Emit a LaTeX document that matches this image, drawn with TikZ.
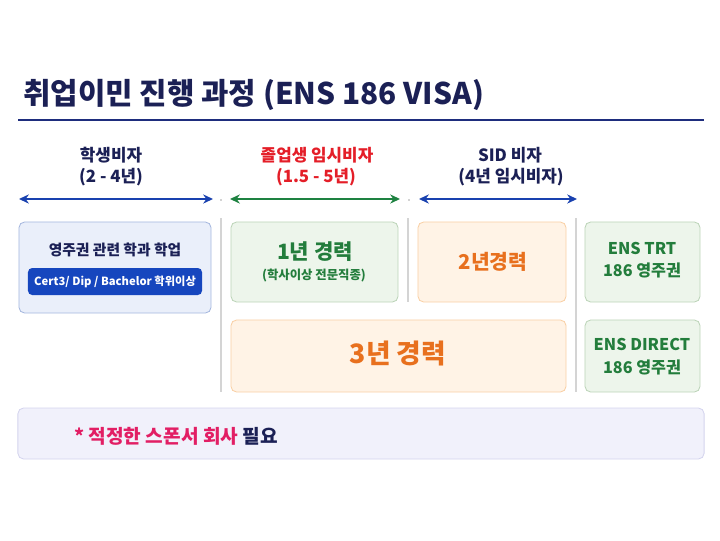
\documentclass[tikz,border=0pt]{standalone}
\usepackage{fontspec}
\setmainfont{Noto Sans CJK KR}
\usetikzlibrary{arrows.meta}
\definecolor{navy}{RGB}{27,32,85}
\definecolor{rulecol}{RGB}{30,45,125}
\definecolor{visared}{RGB}{228,30,40}
\definecolor{arrblue}{RGB}{25,65,175}
\definecolor{arrgreen}{RGB}{30,130,65}
\definecolor{studfill}{RGB}{234,239,250}
\definecolor{studline}{RGB}{165,183,222}
\definecolor{badge}{RGB}{22,70,190}
\definecolor{grfill}{RGB}{237,245,235}
\definecolor{grline}{RGB}{188,212,184}
\definecolor{grtext}{RGB}{35,125,60}
\definecolor{orfill}{RGB}{255,243,230}
\definecolor{orline}{RGB}{249,208,165}
\definecolor{ortext}{RGB}{232,112,30}
\definecolor{notefill}{RGB}{241,241,251}
\definecolor{noteline}{RGB}{212,212,238}
\definecolor{pink}{RGB}{226,30,100}
\definecolor{sepgray}{RGB}{212,212,212}
\tikzset{
  card/.style={draw, rounded corners=4pt, line width=0.6pt, inner sep=0pt},
  txt/.style={inner sep=0pt, font=\bfseries},
  span/.style={{Stealth[length=7pt,width=6.5pt]}-{Stealth[length=7pt,width=6.5pt]}, line width=1.3pt},
  sep/.style={draw=sepgray, line width=0.8pt}
}
\begin{document}
\begin{tikzpicture}[x=0.025cm, y=-0.025cm]
\useasboundingbox (0,0) rectangle (720,540);
% title and rule
\node[txt, anchor=west, text=navy, font=\fontsize{21.2}{25}\selectfont\bfseries] (title) at (23,95) {취업이민 진행 과정 (ENS 186 VISA)};
\coordinate (r0) at (18,120);
\coordinate (r1) at (704,120);
\draw[rulecol, line width=2pt] (r0) -- (r1);
% visa headers
\node[txt, text=navy, font=\fontsize{12}{14}\selectfont\bfseries] (h1) at (111,155) {학생비자};
\node[txt, text=navy, font=\fontsize{12}{14}\selectfont\bfseries] (h1b) at (111,177) {(2 - 4년)};
\node[txt, text=visared, font=\fontsize{12}{14}\selectfont\bfseries] (h2) at (317,155) {졸업생 임시비자};
\node[txt, text=visared, font=\fontsize{12}{14}\selectfont\bfseries] (h2b) at (316,177) {(1.5 - 5년)};
\node[txt, text=navy, font=\fontsize{12}{14}\selectfont\bfseries] (h3) at (510,155) {SID 비자};
\node[txt, text=navy, font=\fontsize{12}{14}\selectfont\bfseries] (h3b) at (511,177) {(4년 임시비자)};
% spans
\coordinate (a0) at (19,199);  \coordinate (a1) at (213,199);
\coordinate (b0) at (230,199); \coordinate (b1) at (400,199);
\coordinate (c0) at (419,199); \coordinate (c1) at (577,199);
\draw[span, arrblue] (a0) -- (a1);
\draw[span, arrgreen] (b0) -- (b1);
\draw[span, arrblue] (c0) -- (c1);
\fill[gray!70] (221,200) circle (0.6pt);
\fill[gray!70] (409,200) circle (0.6pt);
% separators
\draw[sep] (221,218) -- (221,392);
\draw[sep] (408,218) -- (408,302);
\draw[sep] (576,218) -- (576,392);
% student box
\node[card, draw=studline, fill=studfill, minimum width=4.8cm, minimum height=2.275cm] (stud) at (115,267.5) {};
\node[txt, text=navy, font=\fontsize{10.5}{12}\selectfont\bfseries] (studt) at (115,250) {영주권 관련 학과 학업};
\node[card, draw=none, fill=badge, rounded corners=3pt, minimum width=4.35cm, minimum height=0.675cm, text=white, font=\fontsize{8}{10}\selectfont\bfseries] (deg) at (115,281.5) {Cert3/ Dip / Bachelor 학위이상};
% experience boxes
\node[card, draw=grline, fill=grfill, minimum width=4.175cm, minimum height=2cm] (exp1) at (314.5,262) {};
\node[txt, text=grtext, font=\fontsize{15}{18}\selectfont\bfseries] (exp1t) at (315,252) {1년 경력};
\node[txt, text=grtext, font=\fontsize{8.8}{10}\selectfont\bfseries] (exp1s) at (314,276) {(학사이상 전문직종)};
\node[card, draw=orline, fill=orfill, minimum width=3.7cm, minimum height=2cm] (exp2) at (492,262) {};
\node[txt, text=ortext, font=\fontsize{14.5}{17}\selectfont\bfseries] (exp2t) at (493,262) {2년경력};
\node[card, draw=orline, fill=orfill, minimum width=8.375cm, minimum height=1.8cm] (exp3) at (398.5,356) {};
\node[txt, text=ortext, font=\fontsize{19}{22}\selectfont\bfseries] (exp3t) at (398,353) {3년 경력};
% permanent residency
\node[card, draw=grline, fill=grfill, minimum width=2.875cm, minimum height=2cm] (trt) at (642.5,262) {};
\node[txt, text=grtext, font=\fontsize{11.5}{13}\selectfont\bfseries] (trt1) at (642,248) {ENS TRT};
\node[txt, text=grtext, font=\fontsize{11.5}{13}\selectfont\bfseries] (trt2) at (642,270) {186 영주권};
\node[card, draw=grline, fill=grfill, minimum width=2.875cm, minimum height=1.8cm] (dir) at (642.5,356) {};
\node[txt, text=grtext, font=\fontsize{11.5}{13}\selectfont\bfseries] (dir1) at (642,344) {ENS DIRECT};
\node[txt, text=grtext, font=\fontsize{11.5}{13}\selectfont\bfseries] (dir2) at (642,367) {186 영주권};
% sponsor note
\node[card, draw=noteline, fill=notefill, minimum width=17.15cm, minimum height=1.275cm] (note) at (361,433.5) {};
\node[txt, anchor=west, font=\fontsize{13.6}{16}\selectfont\bfseries] (notet) at (74,436) {\textcolor{pink}{* 적정한 스폰서 회사} \textcolor{navy}{필요}};
\end{tikzpicture}
\end{document}
